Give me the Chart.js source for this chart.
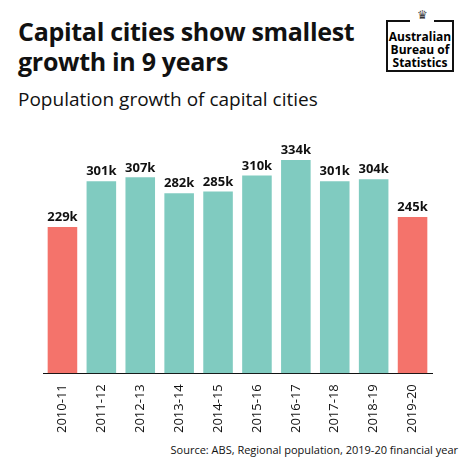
<!DOCTYPE html>
<html>
<head>
<meta charset="utf-8">
<script src="https://cdn.jsdelivr.net/npm/chart.js@4"></script>
<style>
body { margin: 0; background: #fff; font-family: "Open Sans", sans-serif; }
#wrap { position: relative; width: 474px; height: 474px; }
h1 { position: absolute; left: 18px; top: 16px; margin: 0; font-size: 25px; line-height: 30px; font-weight: 700; color: #111; letter-spacing: -0.3px; }
h2 { position: absolute; left: 18px; top: 86px; margin: 0; font-size: 19px; font-weight: 400; color: #111; }
#logo { position: absolute; left: 386px; top: 20px; width: 68px; height: 52px; border: 2px solid #111; font-size: 12px; font-weight: 700; line-height: 13px; text-align: center; padding-top: 8px; box-sizing: border-box; background: #fff; }
#crest { position: absolute; left: 410px; top: 6px; width: 24px; height: 16px; background: #fff; font-size: 12px; text-align: center; color: #333; }
#src { position: absolute; right: 16px; top: 442px; font-size: 11px; color: #111; }
#c { position: absolute; left: 0; top: 110px; }
</style>
</head>
<body>
<div id="wrap">
<h1>Capital cities show smallest<br>growth in 9 years</h1>
<h2>Population growth of capital cities</h2>
<div id="logo">Australian<br>Bureau of<br>Statistics</div>
<div id="crest">♛</div>
<div id="c"><canvas id="chart" width="474" height="326"></canvas></div>
<div id="src">Source: ABS, Regional population, 2019-20 financial year</div>
</div>
<script>
const categories = ['2010-11','2011-12','2012-13','2013-14','2014-15','2015-16','2016-17','2017-18','2018-19','2019-20'];
const growth = [229, 301, 307, 282, 285, 310, 334, 301, 304, 245];
const highlight = [true, false, false, false, false, false, false, false, false, true];

const labelPlugin = {
    id: 'barLabels',
    afterDatasetsDraw(chart) {
        const ctx = chart.ctx;
        const meta = chart.getDatasetMeta(0);
        ctx.save();
        ctx.font = 'bold 13px "Open Sans"';
        ctx.fillStyle = '#111';
        ctx.textAlign = 'center';
        ctx.textBaseline = 'bottom';
        meta.data.forEach((bar, i) => {
            ctx.fillText(growth[i] + 'k', bar.x, bar.y - 3);
        });
        ctx.restore();
    }
};

new Chart(document.getElementById('chart'), {
    type: 'bar',
    data: {
        labels: categories,
        datasets: [{
            data: growth,
            backgroundColor: highlight.map(h => h ? '#f4736b' : '#80cbc0'),
            categoryPercentage: 0.76,
            barPercentage: 1.0
        }]
    },
    options: {
        responsive: false,
        animation: false,
        layout: { padding: { left: 43, right: 42, top: 8 } },
        plugins: { legend: { display: false }, tooltip: { enabled: false } },
        scales: {
            x: {
                grid: { display: false },
                border: { color: '#111', width: 1 },
                ticks: { color: '#111', font: { size: 13, family: 'Open Sans' }, maxRotation: 90, minRotation: 90 }
            },
            y: { display: false, min: 0, max: 400 }
        }
    },
    plugins: [labelPlugin]
});
</script>
</body>
</html>
